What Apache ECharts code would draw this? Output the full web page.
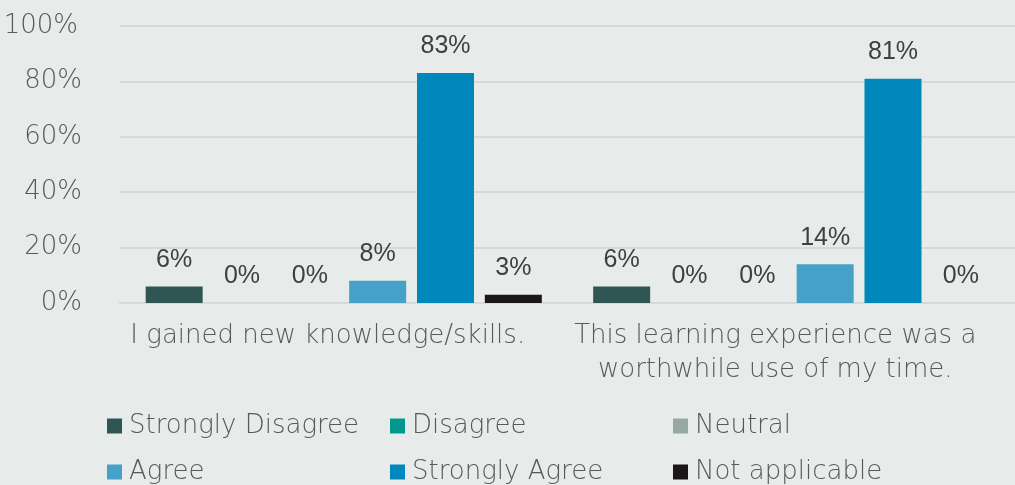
<!DOCTYPE html>
<html>
<head>
<meta charset="utf-8">
<script src="https://cdn.jsdelivr.net/npm/echarts@6/dist/echarts.min.js"></script>
<style>
  html, body { margin: 0; padding: 0; background: #E7EBEA; }
  #chart { width: 1015px; height: 485px; }
</style>
</head>
<body>
<div id="chart"></div>
<script>
// Survey statements shown on the category axis
const categories = [
  'I gained new knowledge/skills.',
  'This learning experience was a\nworthwhile use of my time.'
];

// Response shares (%) per statement
const stronglyDisagree = [6, 6];
const disagree = [0, 0];
const neutral = [0, 0];
const agree = [8, 14];
const stronglyAgree = [83, 81];
const notApplicable = [3, 0];

const yTicks = [0, 20, 40, 60, 80, 100];

const seriesDefs = [
  { name: 'Strongly Disagree', data: stronglyDisagree, color: '#2F5652' },
  { name: 'Disagree', data: disagree, color: '#00998C' },
  { name: 'Neutral', data: neutral, color: '#95A8A3' },
  { name: 'Agree', data: agree, color: '#45A1C7' },
  { name: 'Strongly Agree', data: stronglyAgree, color: '#0087BC' },
  { name: 'Not applicable', data: notApplicable, color: '#1B1718' }
];

const textFont = 'DejaVu Sans';
const textWeight = 200;
const textSize = 26;
const textColor = '#595959';

// One vertical legend per column so the six keys line up in a 3x2 grid
function legendColumn(left, names) {
  return {
    left: left,
    top: 413,
    height: 80,
    padding: 0,
    orient: 'vertical',
    itemWidth: 15,
    itemHeight: 15,
    itemGap: 20,
    icon: 'rect',
    data: names,
    textStyle: {
      fontFamily: textFont, fontWeight: textWeight, fontSize: textSize,
      color: textColor, padding: [0, 0, 0, 2]
    }
  };
}

const chart = echarts.init(document.getElementById('chart'));
chart.setOption({
  backgroundColor: '#E7EBEA',
  animation: false,
  grid: { left: 120, right: 0, top: 26, height: 277, outerBoundsMode: 'none' },
  legend: [
    legendColumn(107, ['Strongly Disagree', 'Agree']),
    legendColumn(390, ['Disagree', 'Strongly Agree']),
    legendColumn(673, ['Neutral', 'Not applicable'])
  ],
  xAxis: {
    type: 'category',
    data: categories,
    axisLine: { show: true, lineStyle: { color: '#D6D9D8', width: 2 } },
    axisTick: { show: false },
    axisLabel: {
      fontFamily: textFont, fontWeight: textWeight, fontSize: textSize, color: textColor,
      lineHeight: 34, margin: 16, interval: 0, padding: [0, 32, 0, 0]
    }
  },
  yAxis: {
    type: 'value',
    min: 0, max: 100, interval: 20,
    axisLine: { show: false },
    axisTick: { show: false },
    splitLine: { lineStyle: { color: '#D6D9D8', width: 2 } },
    axisLabel: {
      fontFamily: textFont, fontWeight: textWeight, fontSize: textSize, color: textColor,
      margin: 38,
      formatter: v => yTicks.includes(v) ? (v === 100 ? '{top|' + v + '%}' : v + '%') : '',
      rich: {
        top: { fontFamily: textFont, fontWeight: textWeight, fontSize: textSize, color: textColor, padding: [0, 4, 0, 0] }
      }
    }
  },
  series: seriesDefs.map(s => ({
    name: s.name,
    type: 'bar',
    data: s.data,
    barWidth: 57,
    barGap: '19%',
    itemStyle: { color: s.color },
    label: {
      show: true,
      position: 'top',
      distance: 14,
      formatter: p => p.value + '%',
      fontFamily: 'Liberation Sans',
      fontSize: 25,
      color: '#404040'
    }
  }))
});
</script>
</body>
</html>
